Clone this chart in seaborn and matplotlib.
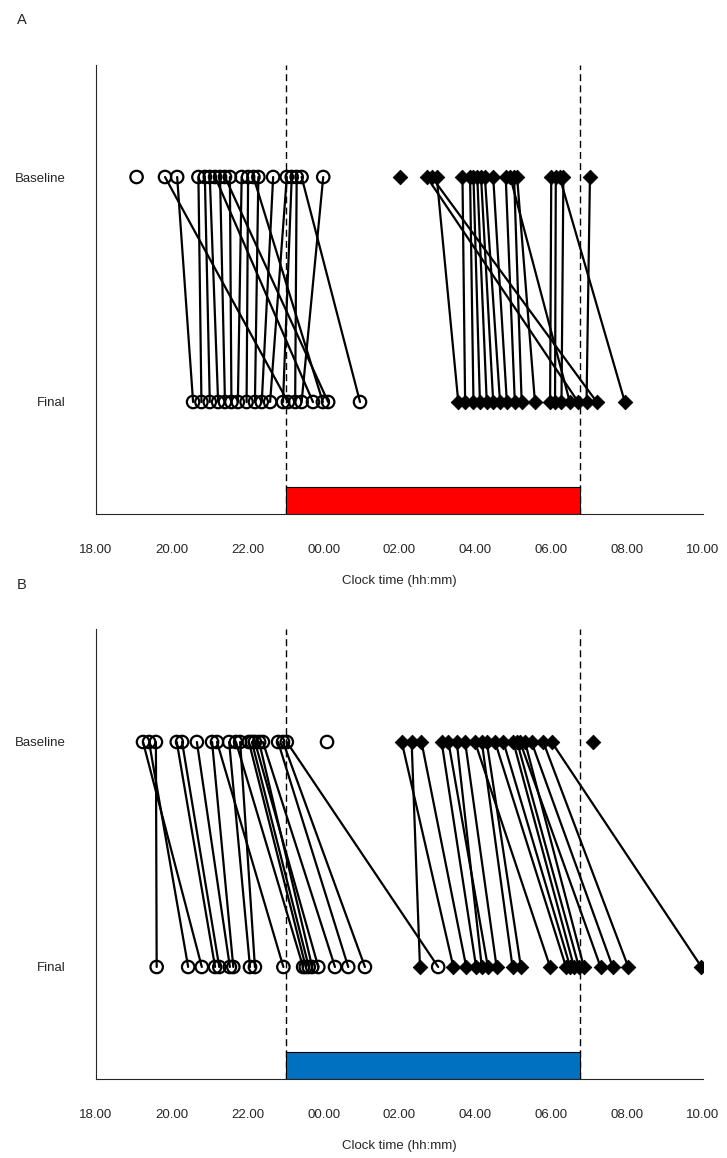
import numpy as np
import pandas as pd
import seaborn as sns
import matplotlib
matplotlib.use('Agg')
import matplotlib.pyplot as plt

# clock time in hours, times after midnight are +24 (02.00 -> 26.0)
# NaN = no final value for that subject
nan = np.nan

# Panel A
onset_base_A = [19.07, 19.82, 20.14, 20.70, 20.87, 21.00, 21.14, 21.27, 21.40, 21.53,
                21.84, 22.01, 22.15, 22.28, 22.67, 23.03, 23.16, 23.29, 23.42, 23.99]
onset_final_A = [nan, 23.06, 20.56, 20.78, 21.00, 21.22, 23.72, 21.40, 24.12, 21.57,
                 21.74, 21.97, 23.98, 22.19, 22.37, 22.59, 22.93, 23.25, 24.96, 23.42]
wake_base_A = [26.01, 26.72, 26.85, 26.98, 27.66, 27.86, 27.95, 28.05, 28.15, 28.25,
               28.47, 28.80, 28.92, 29.02, 29.10, 30.00, 30.12, 30.22, 30.32, 31.02]
wake_final_A = [nan, 30.71, 31.20, 27.55, 27.73, 27.95, 28.12, 28.30, 28.47, 28.65,
                28.83, 29.04, 30.49, 29.22, 29.57, 29.97, 30.10, 31.94, 30.27, 30.93]

# Panel B
onset_base_B = [19.24, 19.40, 19.58, 20.13, 20.27, 20.66, 21.06, 21.19, 21.51, 21.69,
                21.80, 22.03, 22.11, 22.19, 22.30, 22.40, 22.80, 22.93, 23.03, 24.09]
onset_final_B = [20.79, 20.43, 19.60, 21.14, 21.25, 21.53, 21.62, 22.94, 22.06, 23.46,
                 22.19, 23.53, 23.61, 23.86, 23.70, 24.30, 24.65, 25.09, 27.02, nan]
wake_base_B = [26.06, 26.32, 26.58, 27.11, 27.29, 27.51, 27.73, 27.99, 28.17, 28.30,
               28.52, 28.74, 29.00, 29.10, 29.18, 29.31, 29.48, 29.79, 30.01, 31.11]
wake_final_B = [27.42, 26.54, 27.76, 28.02, 28.33, 28.17, 28.56, 29.97, 28.98, 29.20,
                30.39, 30.50, 30.60, 30.73, 31.30, 30.86, 31.62, 32.03, 33.96, nan]

# time in bed window (23.00 - 06.45)
window = [23.0, 30.75]

rows_y = ['Final', 'Baseline']
xticks = [18, 20, 22, 24, 26, 28, 30, 32, 34]
xticklabels = ['18.00', '20.00', '22.00', '00.00', '02.00', '04.00', '06.00', '08.00', '10.00']


def build(onb, onf, wkb, wkf):
    rows = []
    for kind, base, final in [('onset', onb, onf), ('wake', wkb, wkf)]:
        for i, (b, f) in enumerate(zip(base, final)):
            rows.append((kind + str(i), b, 2, kind))
            if not np.isnan(f):
                rows.append((kind + str(i), f, 1, kind))
    return pd.DataFrame(rows, columns=['uid', 'time', 'y', 'kind'])


def panel(ax, df, barcolor):
    ax.axvline(window[0], color='black', lw=1, ls=(0, (5, 3)), zorder=1)
    ax.axvline(window[1], color='black', lw=1, ls=(0, (5, 3)), zorder=1)
    ax.barh(0.5, window[1] - window[0], left=window[0], height=0.12, align='edge',
            color=barcolor, edgecolor='black', lw=0.8, zorder=2)
    sns.lineplot(data=df, x='time', y='y', units='uid', estimator=None, sort=False,
                 color='black', lw=1.6, ax=ax, zorder=3)
    sns.scatterplot(data=df[df.kind == 'onset'], x='time', y='y', marker='o', s=80,
                    color='black', ax=ax, zorder=4, legend=False)
    coll = ax.collections[-1]
    coll.set_facecolor('none')
    coll.set_edgecolor('black')
    coll.set_linewidth(1.6)
    sns.scatterplot(data=df[df.kind == 'wake'], x='time', y='y', marker='D', s=55,
                    color='black', edgecolor='black', ax=ax, zorder=4, legend=False)

    ax.set_xlim(18, 34)
    ax.set_ylim(0.5, 2.5)
    ax.set_xticks(xticks)
    ax.set_xticklabels(xticklabels)
    ax.set_yticks([0.5, 1, 2])
    ax.set_yticklabels([''] + rows_y)
    ax.set_xlabel('Clock time (hh:mm)', labelpad=14)
    ax.set_ylabel('')
    ax.tick_params(axis='x', length=4, width=0.8, pad=17)
    ax.tick_params(axis='y', length=4, width=0.8, pad=18)
    for s in ['top', 'right']:
        ax.spines[s].set_visible(False)
    for s in ['left', 'bottom']:
        ax.spines[s].set_linewidth(0.8)


sns.set_style('white')
plt.rcParams['font.family'] = ['Liberation Sans', 'DejaVu Sans']
plt.rcParams['font.size'] = 9.5

fig = plt.figure(figsize=(7.27, 11.58), dpi=100)
axA = fig.add_axes([0.132, 0.5557, 0.835, 0.3886])
axB = fig.add_axes([0.132, 0.0678, 0.835, 0.3886])

panel(axA, build(onset_base_A, onset_final_A, wake_base_A, wake_final_A), '#ff0000')
panel(axB, build(onset_base_B, onset_final_B, wake_base_B, wake_final_B), '#0070c0')

fig.text(17 / 727, 1 - 20 / 1158, 'A', fontsize=10.5, va='center')
fig.text(17 / 727, 1 - 585 / 1158, 'B', fontsize=10.5, va='center')

fig.savefig('out.png', dpi=100)
